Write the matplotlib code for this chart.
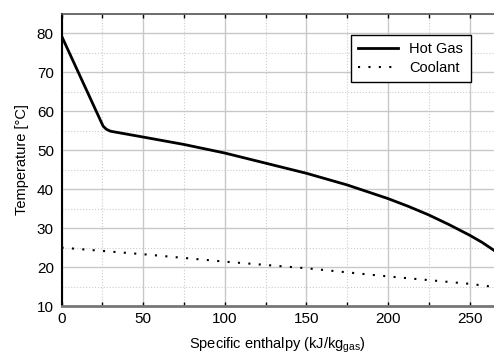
import numpy as np
import matplotlib.pyplot as plt
from matplotlib.ticker import MultipleLocator

plt.rcParams['font.family'] = ['Liberation Sans', 'DejaVu Sans']
plt.rcParams['mathtext.fontset'] = 'custom'
plt.rcParams['mathtext.rm'] = 'Liberation Sans'

# Daten
h_gas = [0, 25.5, 27.5, 30, 50, 75, 100, 125, 150, 175, 200, 212.5, 225, 237.5, 250, 257.5, 265]
t_gas = [79.4, 56.2, 55.4, 54.9, 53.4, 51.5, 49.3, 46.7, 44.1, 41.1, 37.6, 35.6, 33.4, 30.9, 28.2, 26.4, 24.3]

h_cool = [0, 50, 100, 150, 200, 250, 265]
t_cool = [25.0, 23.3, 21.4, 19.7, 17.6, 15.7, 14.9]

fig = plt.figure(figsize=(4.94, 3.55), dpi=100)
ax = fig.add_axes([0.1245, 0.138, 0.8755, 0.8225])

ax.plot(h_gas, t_gas, 'k-', lw=2, label='Hot Gas', solid_joinstyle='round')
ax.plot(h_cool, t_cool, color='k', lw=1.5, linestyle=(0, (1, 4)), label='Coolant')

ax.set_xlim(0, 265)
ax.set_ylim(10, 85)
ax.xaxis.set_major_locator(MultipleLocator(50))
ax.xaxis.set_minor_locator(MultipleLocator(25))
ax.yaxis.set_major_locator(MultipleLocator(10))
ax.yaxis.set_minor_locator(MultipleLocator(5))

ax.grid(which='major', color='#c8c8c8', lw=1, ls='-')
ax.grid(which='minor', color='#cccccc', lw=0.8, ls=':')
ax.set_axisbelow(True)

ax.tick_params(axis='x', which='both', direction='in', top=True, bottom=True,
               length=3, width=1, labelsize=11, pad=4)
ax.tick_params(axis='y', which='both', left=False, right=False, labelsize=11, pad=2)

ax.spines['right'].set_visible(False)
ax.spines['top'].set_color('#555555')
ax.spines['top'].set_linewidth(1.2)
ax.spines['bottom'].set_color('#777777')
ax.spines['bottom'].set_linewidth(2)
ax.spines['left'].set_color('black')
ax.spines['left'].set_linewidth(1.5)

ax.set_xlabel(r'Specific enthalpy (kJ/kg$_{\mathrm{gas}}$)', fontsize=10.5, labelpad=7)
ax.set_ylabel('Temperature [°C]', fontsize=10.5, labelpad=6)

leg = ax.legend(loc='upper right', bbox_to_anchor=(0.946, 0.928), borderaxespad=0,
                fancybox=False, edgecolor='black', framealpha=1, fontsize=10.5,
                handlelength=2.7, borderpad=0.5, labelspacing=0.3)
leg.get_frame().set_linewidth(1)

fig.savefig('out.png', dpi=100)
